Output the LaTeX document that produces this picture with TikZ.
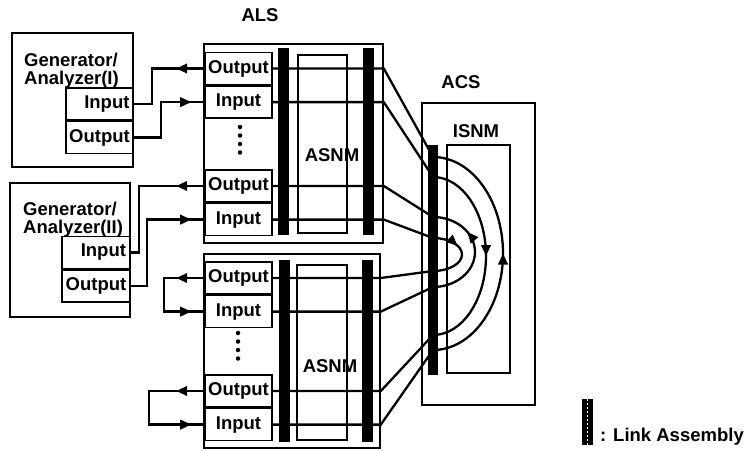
\documentclass[tikz,border=0pt]{standalone}
\usepackage{fontspec}
\setmainfont{Liberation Sans}
\usepackage{tikz}
\usetikzlibrary{arrows.meta,positioning,decorations.markings}

\begin{document}
\begin{tikzpicture}[
  x=1pt,y=-1pt,
  >={Triangle[length=11pt,width=9.5pt]},
  every node/.style={font=\bfseries\fontsize{18.5}{18}\selectfont},
  box/.style={draw,line width=1.6pt,inner sep=0pt},
  port/.style={box,minimum width=67pt,minimum height=32pt},
  linkbar/.style={fill=black,inner sep=0pt,minimum width=11pt},
  wire/.style={line width=2.3pt},
  dotmark/.style={circle,fill=black,inner sep=0pt,minimum size=4.5pt},
  outmark/.style={postaction={decorate,decoration={markings,
    mark=at position 28pt with {\arrow{>}}}}},
  inmark/.style={postaction={decorate,decoration={markings,
    mark=at position -13pt with {\arrow{>}}}}},
  loopmark/.style={postaction={decorate,decoration={markings,
    mark=at position 28pt with {\arrow{>}},
    mark=at position -13pt with {\arrow{>}}}}},
  arcmark/.style={postaction={decorate,decoration={markings,
    mark=at position #1 with {\arrow{>}}}}}
]
\path[use as bounding box] (0,0) rectangle (744,450);

% generator / analyzer units
\node[box,minimum width=121pt,minimum height=134pt] (genA) at (72.5,100) {};
\node[anchor=north west,align=left,inner sep=0pt] (genAtxt) at (24,53)
  {Generator/\\Analyzer(I)};
\node[port,align=right,text width=60pt] (gAin) at (99.5,104) {Input};
\node[port,below=0pt of gAin] (gAout) {Output};

\node[box,minimum width=120pt,minimum height=134pt] (genB) at (70,250) {};
\node[anchor=north west,align=left,inner sep=0pt] (genBtxt) at (23,202)
  {Generator/\\Analyzer(II)};
\node[port,align=right,text width=60pt,minimum width=68pt] (gBin) at (96,252.5) {Input};
\node[port,minimum width=68pt,below=0pt of gBin] (gBout) {Output};

% upper ALS
\node (alsLabel) at (260,15) {ALS};
\node[box,minimum width=179pt,minimum height=199pt] (alsU) at (293.5,143.5) {};
\node[box,minimum width=49pt,minimum height=178pt] (asnmU) at (322.5,144) {};
\node (asnmUtxt) at (332,155) {ASNM};
\node[port] (uOut1) at (238.5,68.5) {Output};
\node[port,below=0pt of uOut1] (uIn1) {Input};
\node[port] (uOut2) at (238.5,186) {Output};
\node[port,below=0pt of uOut2] (uIn2) {Input};
\foreach \y in {127,135.5,144,152.5}
  \node[dotmark] at (240,\y) {};

% lower ALS
\node[box,minimum width=176pt,minimum height=194pt] (alsL) at (292,351) {};
\node[box,minimum width=50pt,minimum height=175pt] (asnmL) at (322,352.5) {};
\node (asnmLtxt) at (330,366.5) {ASNM};
\node[port] (lOut1) at (238.5,278) {Output};
\node[port,below=0pt of lOut1] (lIn1) {Input};
\node[port] (lOut2) at (238.5,391) {Output};
\node[port,below=0pt of lOut2] (lIn2) {Input};
\foreach \y in {333,341.5,350,358.5}
  \node[dotmark] at (238,\y) {};

% ACS
\node (acsLabel) at (461,82) {ACS};
\node[box,minimum width=113pt,minimum height=302pt] (acs) at (478.5,254) {};
\node[box,minimum width=63pt,minimum height=228pt] (isnm) at (478.5,259) {};
\node (isnmLabel) at (476,131) {ISNM};

\coordinate (pA) at (433,157);
\coordinate (pB) at (433,177);
\coordinate (pC) at (433,217);
\coordinate (pD) at (433,238);
\coordinate (pE) at (433,271);
\coordinate (pF) at (433,287);
\coordinate (pG) at (433,335);
\coordinate (pH) at (433,350);

% generator wiring
\draw[wire,outmark] (uOut1.west) -- ++(-52,0) |- (gAin.east);
\draw[wire,inmark] (gAout.east) -| ([xshift=-43pt]uIn1.west) -- (uIn1.west);
\draw[wire,outmark] (uOut2.west) -- ++(-65,0) |- (gBin.east);
\draw[wire,inmark] (gBout.east) -| ([xshift=-57pt]uIn2.west) -- (uIn2.west);

% loop-backs
\draw[wire,loopmark] (lOut1.west) -- ++(-40,0) |- (lIn1.west);
\draw[wire,loopmark] (lOut2.west) -- ++(-55,0) |- (lIn2.west);

% ALS to ACS
\draw[wire] (uOut1.east) -- (uOut1.east -| alsU.east) -- (pA);
\draw[wire] (uIn1.east) -- (uIn1.east -| alsU.east) -- (pB);
\draw[wire] (uOut2.east) -- (uOut2.east -| alsU.east) -- (pC);
\draw[wire] (uIn2.east) -- (uIn2.east -| alsU.east) -- (pD);
\draw[wire] (lOut1.east) -- (lOut1.east -| alsL.east) -- (pE);
\draw[wire] (lIn1.east) -- (lIn1.east -| alsL.east) -- (pF);
\draw[wire] (lOut2.east) -- (lOut2.east -| alsL.east) -- (pG);
\draw[wire] (lIn2.east) -- (lIn2.east -| alsL.east) -- (pH);

% ISNM paths
\draw[wire,arcmark=0.5] (pH) arc[start angle=90,end angle=-90,x radius=70,y radius=96.5];
\draw[wire,arcmark=0.5] (pB) arc[start angle=-90,end angle=90,x radius=53,y radius=79];
\draw[wire,arcmark=0.68] (pF) arc[start angle=90,end angle=-90,x radius=42,y radius=35];
\draw[wire,arcmark=0.36] (pD) arc[start angle=-90,end angle=90,x radius=29,y radius=16.5];

% link assemblies
\node[linkbar,minimum height=187pt] (linkUa) at (283.5,141.5) {};
\node[linkbar,minimum height=187pt] (linkUb) at (368.5,141.5) {};
\node[linkbar,minimum height=182pt] (linkLa) at (284,351) {};
\node[linkbar,minimum height=182pt] (linkLb) at (367.5,351) {};
\node[linkbar,minimum width=10pt,minimum height=230pt] (linkC) at (432.5,260) {};

% legend
\node[linkbar,minimum height=46pt] (legBar) at (587.5,422) {};
\draw[white,line width=0.6pt,dash pattern=on 2pt off 2pt] (legBar.north) -- (legBar.south);
\node[anchor=base west,inner sep=0pt] (legText) at (600,441) {: Link Assembly};
\end{tikzpicture}
\end{document}
